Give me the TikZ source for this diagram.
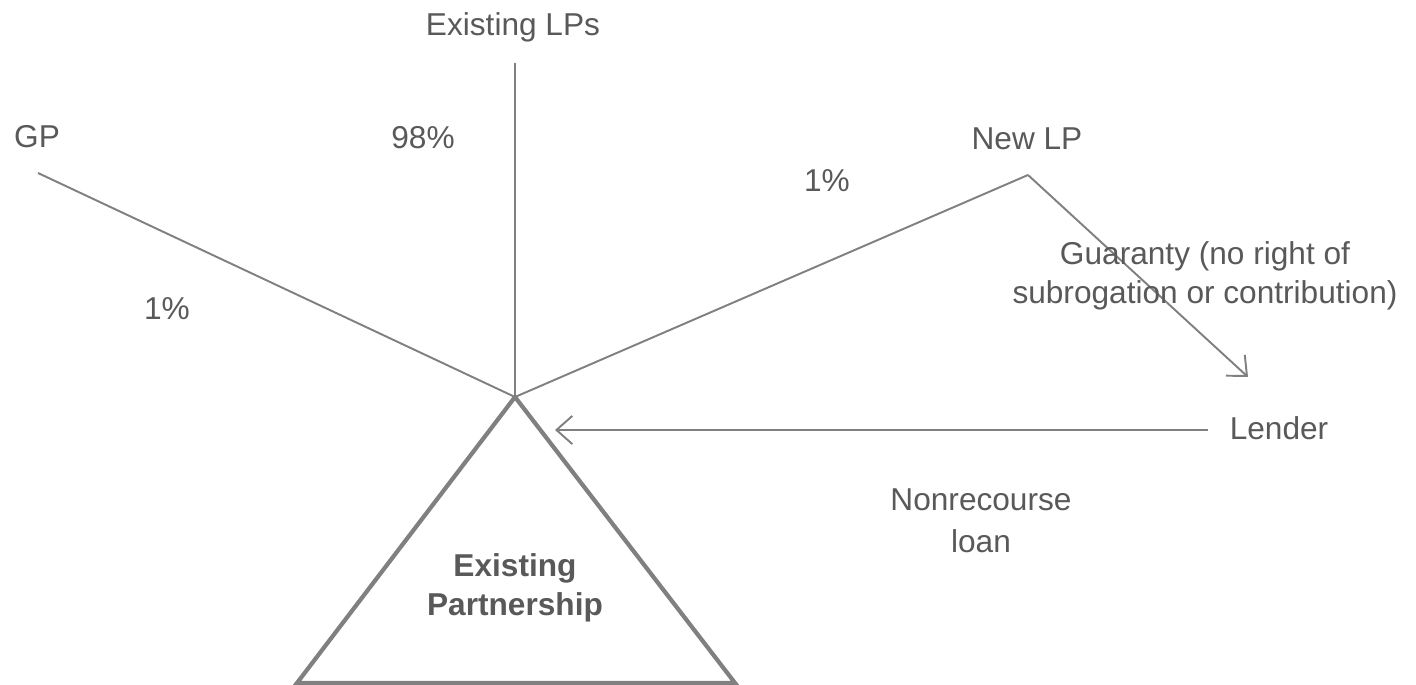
\documentclass[tikz,border=0pt]{standalone}
\usepackage{fontspec}
\usetikzlibrary{arrows.meta}
\setmainfont{Liberation Sans}
\definecolor{linegray}{RGB}{128,128,128}
\definecolor{textgray}{RGB}{89,89,89}
\begin{document}
\begin{tikzpicture}[x=0.02cm, y=-0.02cm,
    lbl/.style={text=textgray, font=\fontsize{18}{22}\selectfont, inner sep=0pt, align=center},
    link/.style={draw=linegray, line width=1.1pt},
    flow/.style={link, -{Straight Barb[length=9pt, width=16pt]}}]
    \useasboundingbox (0,0) rectangle (1416,685);
    % partnership triangle
    \coordinate (apex) at (515,397);
    \draw[draw=linegray, line width=2.4pt, line join=miter] (apex) -- (735,683) -- (297,683) -- cycle;
    \node[lbl, font=\fontsize{18}{22}\selectfont\bfseries] (ep) at (515,588) {Existing\\Partnership};
    % partners
    \node[lbl] (elp) at (513,27) {Existing LPs};
    \node[lbl] (gp) at (37,137) {GP};
    \node[lbl] (nlp) at (1027,139) {New LP};
    \node[lbl] (lender) at (1279,428) {Lender};
    \coordinate (elpend) at (515,63);
    \coordinate (gpend) at (38,173);
    \coordinate (nlpend) at (1028,175);
    \coordinate (guar) at (1248,377);
    \coordinate (lendend) at (1208,430);
    \coordinate (loanend) at (555,430);
    \draw[link] (gpend) -- (apex);
    \draw[link] (elpend) -- (apex);
    \draw[link] (nlpend) -- (apex);
    \draw[flow] (nlpend) -- (guar);
    \draw[flow] (lendend) -- (loanend);
    % percentages and notes
    \node[lbl] (pgp) at (167,309) {1\%};
    \node[lbl] (pelp) at (423,138) {98\%};
    \node[lbl] (pnlp) at (827,181) {1\%};
    \node[lbl] (guarnote) at (1205,276) {Guaranty (no right of\\subrogation or contribution)};
    \node[lbl, font=\fontsize{18}{24}\selectfont] (loan) at (981,521) {Nonrecourse\\loan};
\end{tikzpicture}
\end{document}
